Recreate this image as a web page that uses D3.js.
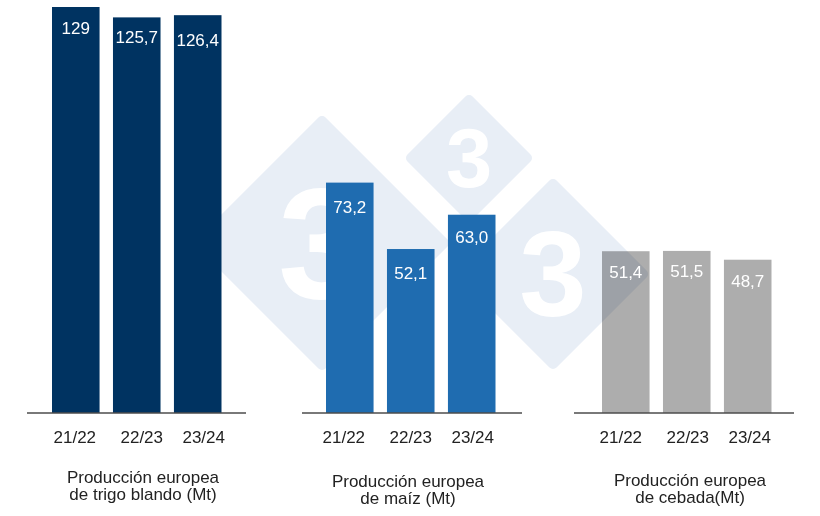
<!DOCTYPE html>
<html>
<head>
<meta charset="utf-8">
<script src="https://cdn.jsdelivr.net/npm/d3@7.9.0/dist/d3.min.js"></script>
<style>
  body { margin: 0; background: #fff; }
  svg { display: block; font-family: "Liberation Sans", Arial, sans-serif; }
</style>
</head>
<body>
<svg id="chart" width="820" height="516"></svg>
<script>
const seasons = ['21/22', '22/23', '23/24'];
const wheat = [129, 125.7, 126.4];
const maize = [73.2, 52.1, 63.0];
const barley = [51.4, 51.5, 48.7];

const wheatTitle = ['Producción europea', 'de trigo blando (Mt)'];
const maizeTitle = ['Producción europea', 'de maíz (Mt)'];
const barleyTitle = ['Producción europea', 'de cebada(Mt)'];

// layout only, one entry per panel. The grey bars sit under the watermark, the blue ones over it
const panels = [
  { values: barley, title: barleyTitle, color: '#adadad', under: true, bars: [602, 771.5], axis: [574, 794], tickShift: 0, titleX: 690, titleY: 486, nudge: [-1, -2, -1] },
  { values: wheat, title: wheatTitle, color: '#003361', under: false, bars: [52, 221.5], axis: [27, 246], tickShift: 4, titleX: 143, titleY: 483, nudge: [-1, -2, 3] },
  { values: maize, title: maizeTitle, color: '#1f6cb0', under: false, bars: [326, 495.5], axis: [302, 522], tickShift: -1, titleX: 408, titleY: 487, nudge: [2, 2, 0] },
];
const tickOffsets = [-5, 1, 2];

// watermark diamonds behind the chart
const marks = [
  { cx: 322, cy: 243, r: 122, size: 158 },
  { cx: 553, cy: 274, r: 90, size: 121 },
  { cx: 469, cy: 158, r: 58, size: 83 },
];

const svg = d3.select('#chart');
const baseY = 413;

const y = d3.scaleLinear().domain([0, 129]).range([baseY, 7]);

const underLayer = svg.append('g');
const markLayer = svg.append('g').style('mix-blend-mode', 'multiply');
const overLayer = svg.append('g');
const topLayer = svg.append('g');

marks.forEach((m) => {
  const g = markLayer.append('g').attr('transform', `translate(${m.cx},${m.cy})`);
  g.append('path')
    .attr('d', `M0,${-m.r}L${m.r},0L0,${m.r}L${-m.r},0Z`)
    .attr('fill', '#e8eef6')
    .attr('stroke', '#e8eef6')
    .attr('stroke-width', 10)
    .attr('stroke-linejoin', 'round');
  g.append('text')
    .attr('text-anchor', 'middle')
    .attr('y', m.size * 0.35)
    .attr('font-size', m.size)
    .attr('font-weight', 'bold')
    .attr('fill', '#fff')
    .text('3');
});

panels.forEach((p) => {
  const x = d3.scaleBand().domain(seasons).range(p.bars).paddingInner(0.22);
  const rows = seasons.map((s, i) => ({ season: s, value: p.values[i], nudge: p.nudge[i] }));

  (p.under ? underLayer : overLayer).selectAll(null)
    .data(rows)
    .join('rect')
    .attr('x', (d) => x(d.season))
    .attr('y', (d) => y(d.value))
    .attr('width', x.bandwidth())
    .attr('height', (d) => baseY - y(d.value))
    .attr('fill', p.color);

  topLayer.selectAll(null)
    .data(rows)
    .join('text')
    .attr('x', (d) => x(d.season) + x.bandwidth() / 2)
    .attr('y', (d) => y(d.value) + 28 + d.nudge)
    .attr('text-anchor', 'middle')
    .attr('font-size', 17)
    .attr('fill', '#fff')
    .text((d) => (d.value === 129 ? '129' : d3.format('.1f')(d.value).replace('.', ',')));

  const axis = topLayer.append('g')
    .attr('transform', `translate(0,${baseY})`)
    .call(d3.axisBottom(x).tickSize(0).tickPadding(0));
  axis.select('.domain').remove();
  axis.selectAll('text')
    .attr('font-size', 17)
    .attr('fill', '#222')
    .attr('font-family', 'inherit')
    .attr('dy', null)
    .attr('y', 30)
    .attr('dx', (d, i) => p.tickShift + tickOffsets[i]);
  axis.append('line')
    .attr('x1', p.axis[0])
    .attr('x2', p.axis[1])
    .attr('stroke', '#4d4d4d')
    .attr('stroke-width', 1.5);

  topLayer.selectAll(null)
    .data(p.title)
    .join('text')
    .attr('x', p.titleX)
    .attr('y', (d, i) => p.titleY + i * 17)
    .attr('text-anchor', 'middle')
    .attr('font-size', 17)
    .attr('fill', '#222')
    .text((d) => d);
});
</script>
</body>
</html>
